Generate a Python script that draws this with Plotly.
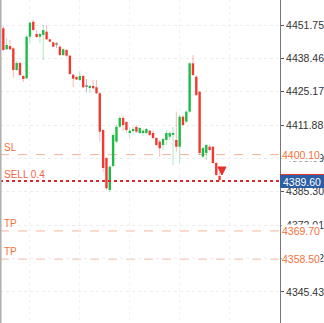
import plotly.graph_objects as go

# candle index (time slot)
idx = list(range(1, 67))
opens = [4450.44, 4442.07, 4443.38, 4442.47, 4433.82, 4436.61, 4431.43, 4430.51, 4447.09, 4453.06,
         4448.16, 4447.09, 4447.77, 4449.08, 4446.05, 4444.86, 4443.78, 4443.10, 4439.80, 4441.79,
         4439.52, 4431.95, 4431.03, 4429.84, 4431.43, 4427.17, 4426.93, 4427.45, 4426.93, 4424.54,
         4409.92, 4398.76, 4386.01, 4395.57, 4405.26, 4411.23, 4414.70, 4413.10, 4408.72, 4409.52,
         4411.11, 4408.72, 4408.72, 4408.72, 4409.64, 4408.72, 4406.73, 4405.26, 4403.94, 4405.93,
         4407.25, 4407.92, 4405.93, 4403.26, 4415.22, 4413.22, 4417.21, 4436.49, 4431.15, 4425.18,
         4399.28, 4400.75, 4403.26, 4403.26, 4396.77, 4391.59]
highs = [4451.35, 4446.57, 4445.77, 4442.98, 4437.41, 4437.01, 4431.83, 4447.77, 4453.34, 4453.74,
         4449.76, 4448.56, 4451.75, 4451.75, 4446.17, 4444.98, 4444.98, 4443.78, 4442.59, 4442.19,
         4439.80, 4432.23, 4431.43, 4433.54, 4431.83, 4430.24, 4427.85, 4429.84, 4429.84, 4425.06,
         4410.32, 4399.16, 4395.97, 4408.72, 4411.91, 4415.49, 4415.49, 4413.50, 4410.71, 4411.11,
         4411.91, 4411.11, 4410.32, 4410.71, 4409.92, 4409.92, 4407.13, 4405.93, 4406.73, 4409.92,
         4409.52, 4411.11, 4417.21, 4415.89, 4415.89, 4417.88, 4437.01, 4439.80, 4431.83, 4425.45,
         4403.14, 4404.34, 4403.94, 4403.54, 4397.17, 4393.18]
lows = [4441.39, 4441.79, 4441.79, 4430.63, 4433.42, 4431.43, 4429.04, 4430.24, 4444.58, 4449.36,
        4446.57, 4444.58, 4437.81, 4445.77, 4444.98, 4442.98, 4442.59, 4439.40, 4439.40, 4439.00,
        4431.83, 4427.05, 4429.84, 4429.44, 4426.65, 4425.06, 4424.66, 4426.25, 4424.26, 4405.26,
        4393.18, 4386.01, 4385.22, 4395.18, 4404.74, 4410.71, 4409.52, 4408.72, 4406.73, 4408.32,
        4408.72, 4408.32, 4407.53, 4407.92, 4407.53, 4406.33, 4403.54, 4399.28, 4401.95, 4403.94,
        4405.93, 4395.97, 4401.27, 4396.77, 4411.51, 4412.71, 4416.69, 4431.43, 4423.46, 4399.96,
        4398.76, 4397.96, 4401.55, 4396.37, 4391.59, 4389.20]
closes = [4441.79, 4443.78, 4442.07, 4433.82, 4436.61, 4431.83, 4430.24, 4447.09, 4452.67, 4449.76,
          4446.97, 4448.16, 4449.76, 4446.05, 4445.10, 4443.10, 4443.78, 4439.80, 4442.07, 4439.52,
          4432.23, 4430.36, 4430.04, 4431.43, 4426.93, 4427.17, 4427.45, 4426.53, 4424.54, 4409.24,
          4394.78, 4386.69, 4395.29, 4407.92, 4411.23, 4414.70, 4411.91, 4409.92, 4409.64, 4410.32,
          4409.24, 4410.71, 4409.64, 4410.32, 4407.92, 4406.73, 4403.94, 4402.63, 4406.33, 4408.72,
          4408.72, 4408.72, 4403.26, 4415.22, 4411.91, 4417.21, 4436.49, 4431.83, 4423.86, 4400.75,
          4402.75, 4403.94, 4401.95, 4396.77, 4391.99, 4390.00]

tick_vals = [4451.75, 4438.46, 4425.17, 4411.88, 4398.59, 4385.30, 4372.01, 4358.72, 4345.43]
tick_text = ["4451.75", "4438.46", "4425.17", "4411.88", "4398.59", "4385.30", "4372.01", "4358.72", "4345.43"]

sl_price = 4400.10
sell_price = 4389.60
sell_label = "SELL 0.4"
tp_prices = [4369.70, 4358.50]
arrow_x = [66.7]
arrow_y = [4392.0]

GREEN = "#1fbb48"
RED = "#f23a32"
GRAY = "#8c8c8c"
ORANGE = "#f5703a"

fig = go.Figure()

# wicks
def wick_trace(sel, color):
    xs, ys = [], []
    for i in sel:
        xs += [idx[i], idx[i], None]
        ys += [lows[i], highs[i], None]
    return go.Scatter(x=xs, y=ys, mode="lines", line=dict(color=color, width=1),
                      hoverinfo="skip", showlegend=False)

up = [i for i in range(len(idx)) if closes[i] > opens[i]]
dn = [i for i in range(len(idx)) if closes[i] < opens[i]]
dj = [i for i in range(len(idx)) if closes[i] == opens[i]]

fig.add_trace(wick_trace(up, "rgba(31,187,72,0.35)"))
fig.add_trace(wick_trace(dn, "rgba(242,58,50,0.35)"))
fig.add_trace(wick_trace(dj, "rgba(140,140,140,0.6)"))

def body_trace(sel, color):
    xs = [idx[i] for i in sel]
    base = [min(opens[i], closes[i]) for i in sel]
    h = [max(abs(closes[i] - opens[i]), 0.45) for i in sel]
    return go.Bar(x=xs, y=h, base=base, width=0.72, marker=dict(color=color, line=dict(width=0)),
                  showlegend=False)

fig.add_trace(body_trace(up, GREEN))
fig.add_trace(body_trace(dn, RED))
fig.add_trace(body_trace(dj, GRAY))

fig.add_trace(go.Scatter(x=arrow_x, y=arrow_y, mode="markers",
                         marker=dict(symbol="arrow-down", size=8, color="#e8302a",
                                     line=dict(color="#e8302a", width=1)),
                         showlegend=False))

shapes = []
for p in [sl_price] + tp_prices:
    shapes.append(dict(type="line", xref="paper", x0=0, x1=1, yref="y", y0=p, y1=p,
                       line=dict(color="#f9b198", width=1, dash="dash"), layer="below"))
shapes.append(dict(type="line", xref="paper", x0=0, x1=1, yref="y", y0=sell_price, y1=sell_price,
                   line=dict(color="#d7282a", width=2, dash="dot")))
# left border
shapes.append(dict(type="line", xref="paper", x0=0.002, x1=0.002, yref="paper", y0=0, y1=1,
                   line=dict(color="#b0b0b0", width=2)))
# current price box
shapes.append(dict(type="rect", xref="paper", x0=1.0, x1=1.16, yref="y",
                   y0=sell_price - 2.8, y1=sell_price + 2.4,
                   fillcolor="#2c5ea6", line=dict(width=0)))
shapes.append(dict(type="line", xref="paper", x0=1.0, x1=1.16, yref="y",
                   y0=sell_price + 2.6, y1=sell_price + 2.6,
                   line=dict(color="#e3312b", width=1)))

annotations = []
annotations.append(dict(xref="paper", x=0, xanchor="left", xshift=2, y=sl_price, yanchor="bottom",
                        yshift=0, text="SL", showarrow=False, font=dict(size=10, color=ORANGE, family="Arial")))
annotations.append(dict(xref="paper", x=0, xanchor="left", xshift=2, y=sell_price, yanchor="bottom",
                        yshift=-1, text=sell_label, showarrow=False,
                        font=dict(size=10, color="#f0654a", family="Arial")))
for p in tp_prices:
    annotations.append(dict(xref="paper", x=0, xanchor="left", xshift=2, y=p, yanchor="bottom",
                            yshift=0, text="TP", showarrow=False,
                            font=dict(size=10, color=ORANGE, family="Arial")))
for p in [sl_price] + tp_prices:
    annotations.append(dict(xref="paper", x=1, xanchor="left", xshift=1, y=p, yanchor="middle",
                            text=f"{p:.2f}", showarrow=False, bgcolor="white", borderpad=0,
                            font=dict(size=10.5, color=ORANGE, family="Arial")))
annotations.append(dict(xref="paper", x=1, xanchor="left", xshift=1, y=sell_price, yanchor="middle",
                        yshift=-1, text=f"{sell_price:.2f}", showarrow=False,
                        font=dict(size=10.5, color="white", family="Arial")))

fig.update_layout(
    width=324, height=323,
    margin=dict(l=0, r=44, t=0, b=0),
    plot_bgcolor="white", paper_bgcolor="white",
    barmode="overlay",
    showlegend=False,
    shapes=shapes,
    annotations=annotations,
    xaxis=dict(range=[0, 84.16], showticklabels=False, ticks="", zeroline=False,
               showgrid=True, gridcolor="#f3f3f3", griddash="dot", tick0=9, dtick=15,
               fixedrange=True),
    yaxis=dict(range=[4333.02, 4461.71], side="right", tickvals=tick_vals, ticktext=tick_text,
               ticks="outside", ticklen=3, tickcolor="#555", showline=True, linecolor="#777",
               linewidth=1, showgrid=True, gridcolor="#ececec", griddash="dot", zeroline=False,
               tickfont=dict(size=10.5, color="#333", family="Arial"), fixedrange=True),
)

fig.write_html("out.html")
